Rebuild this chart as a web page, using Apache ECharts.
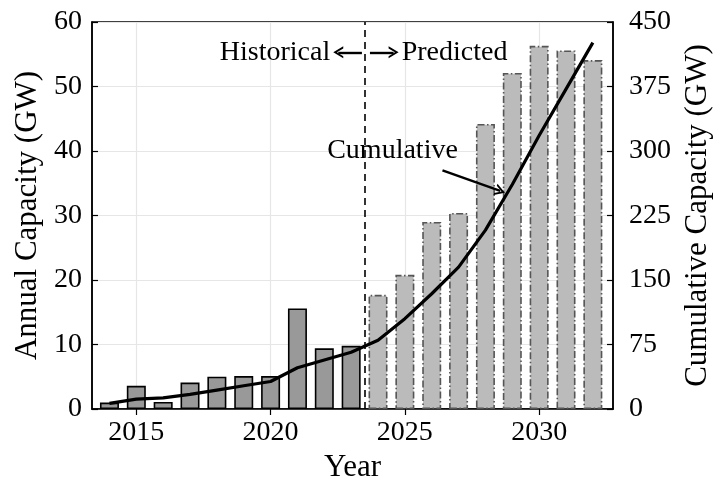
<!DOCTYPE html>
<html><head><meta charset="utf-8">
<script src="https://cdn.jsdelivr.net/npm/echarts@6/dist/echarts.min.js"></script>
<style>html,body{margin:0;padding:0;background:#fff}#c{width:716px;height:480px}</style>
</head><body><div id="c"></div>
<script>
const years = [2014,2015,2016,2017,2018,2019,2020,2021,2022,2023,2024,2025,2026,2027,2028,2029,2030,2031,2032];
const annual = [1.0,3.6,1.1,4.1,5.0,5.1,5.1,15.6,9.4,9.8,17.7,20.8,29.0,30.4,44.2,52.1,56.3,55.6,54.1];
const cumulative = [6.6,11.5,13,17,22,27,32,48,57,66,80,105,134,165,208,261,318,372,426];
const lastHistoricalYear = 2023;
const xTickYears = [2015,2020,2025,2030];
const splitYear = 2023.5;

const FONT = '"Liberation Serif", "Times New Roman", serif';
const histStyle = {color:'#999999', borderColor:'#000', borderWidth:1.6};
const predStyle = {color:'#bbbbbb', borderColor:'#555', borderWidth:1.6, borderType:[7,2.5,1.5,2.5]};
const chevron = 'path://M0,10L5,0L10,10L8.2,10L5,3.6L1.8,10Z';

const chart = echarts.init(document.getElementById('c'), null, {renderer:'canvas'});
const xMin = 2013.35, xMax = 2032.75;
const option = {
  animation:false,
  backgroundColor:'#fff',
  grid:{left:92, right:103, top:22, bottom:71, outerBoundsMode:'none', containLabel:false, show:true, borderColor:'#000', borderWidth:1.5, backgroundColor:'transparent'},
  xAxis:[{
    type:'value', min:xMin, max:xMax, position:'bottom',
    name:'Year', nameLocation:'middle', nameGap:38,
    nameTextStyle:{fontFamily:FONT, fontSize:31, color:'#000'},
    axisLine:{show:true, lineStyle:{color:'#000', width:1.5}},
    axisTick:{show:true, inside:true, length:6, customValues:xTickYears, lineStyle:{color:'#000', width:1.2}},
    axisLabel:{customValues:xTickYears, formatter:(v)=>String(v), fontFamily:FONT, fontSize:28, color:'#000', margin:10},
    splitLine:{show:true, lineStyle:{color:'#e6e6e6', width:1.2}}
  },{
    type:'value', min:xMin, max:xMax, position:'top',
    axisLine:{show:false},
    axisTick:{show:true, inside:true, length:6, customValues:xTickYears, lineStyle:{color:'#000', width:1.2}},
    axisLabel:{show:false}, splitLine:{show:false}
  }],
  yAxis:[{
    type:'value', min:0, max:60, interval:10, position:'left',
    name:'Annual Capacity (GW)', nameLocation:'middle', nameGap:48,
    nameTextStyle:{fontFamily:FONT, fontSize:31, color:'#000'},
    axisLine:{show:true, lineStyle:{color:'#000', width:1.5}},
    axisTick:{show:true, inside:true, length:6, lineStyle:{color:'#000', width:1.2}},
    axisLabel:{fontFamily:FONT, fontSize:28, color:'#000', margin:10},
    splitLine:{show:true, lineStyle:{color:'#e6e6e6', width:1.2}}
  },{
    type:'value', min:0, max:450, interval:75, position:'right',
    name:'Cumulative Capacity (GW)', nameLocation:'middle', nameGap:69,
    nameTextStyle:{fontFamily:FONT, fontSize:31, color:'#000'},
    axisLine:{show:true, lineStyle:{color:'#000', width:1.5}},
    axisTick:{show:true, inside:true, length:6, lineStyle:{color:'#000', width:1.2}},
    axisLabel:{fontFamily:FONT, fontSize:28, color:'#000', margin:16},
    splitLine:{show:false}
  }],
  series:[{
    type:'bar', xAxisIndex:0, yAxisIndex:0, barWidth:19,
    data: years.map((y,i)=>({value:[y, annual[i]], itemStyle: y<=lastHistoricalYear ? histStyle : predStyle})),
    markLine:{
      silent:true, symbol:['none','none'], animation:false,
      label:{show:false},
      lineStyle:{color:'#000', width:2.4, type:'solid'},
      data:[
        [{xAxis:splitYear, yAxis:0, lineStyle:{color:'#000', width:1.6, type:[7,5]}}, {xAxis:splitYear, yAxis:60}],
        [{coord:[2023.40,55.3]}, {coord:[2022.52,55.3], symbol:chevron, symbolSize:[12,10]}],
        [{coord:[2023.70,55.3]}, {coord:[2024.58,55.3], symbol:chevron, symbolSize:[12,10]}],
        [{coord:[2026.4,37.0]}, {coord:[2028.55,33.8], symbol:chevron, symbolSize:[12,10]}]
      ]
    }
  },{
    type:'line', xAxisIndex:0, yAxisIndex:1, symbol:'none', z:5,
    lineStyle:{color:'#000', width:3.2},
    data: years.map((y,i)=>[y, cumulative[i]])
  }]
};
chart.setOption(option);
const px = (x,y)=>chart.convertToPixel({xAxisIndex:0, yAxisIndex:0},[x,y]);
const pH = px(2022.22,55.3), pP = px(2024.88,55.3), pC = px(2024.54,40.0);
const ts = {font:'28px '+FONT, fill:'#000', verticalAlign:'middle'};
chart.setOption({graphic:[
  {type:'text', x:pH[0], y:pH[1], z:10, style:Object.assign({text:'Historical', align:'right'}, ts)},
  {type:'text', x:pP[0], y:pP[1], z:10, style:Object.assign({text:'Predicted', align:'left'}, ts)},
  {type:'text', x:pC[0], y:pC[1], z:10, style:Object.assign({text:'Cumulative', align:'center'}, ts)}
]});
</script></body></html>
